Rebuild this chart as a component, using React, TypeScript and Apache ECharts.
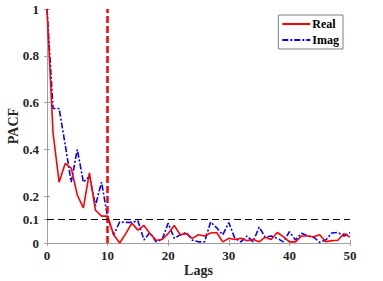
import React, { useEffect, useRef } from "react";
import * as echarts from "echarts";

const lags = Array.from({ length: 51 }, (_, i) => i);
const realPacf = [
  1.0, 0.47, 0.26, 0.34, 0.32, 0.205, 0.15, 0.3, 0.14, 0.115, 0.115,
  0.035, 0.0, 0.04, 0.085, 0.055, 0.075, 0.04, 0.012, 0.015, 0.04,
  0.075, 0.035, 0.04, 0.02, 0.035, 0.03, 0.043, 0.045, 0.005, 0.02,
  0.015, 0.02, 0.01, 0.015, 0.005, 0.025, 0.015, 0.045, 0.027, 0.005,
  0.005, 0.03, 0.03, 0.027, 0.035, 0.005, 0.01, 0.012, 0.04, 0.025,
];
const imagPacf = [
  1.0, 0.575, 0.575, 0.42, 0.26, 0.4, 0.26, 0.285, 0.16, 0.26, 0.11,
  0.035, 0.09, 0.088, 0.088, 0.095, 0.013, 0.045, 0.005, 0.015, 0.085,
  0.02, 0.035, 0.045, 0.012, 0.005, 0.005, 0.09, 0.065, 0.035, 0.087,
  0.02, 0.005, 0.03, 0.005, 0.068, 0.025, 0.03, 0.02, 0.005, 0.048,
  0.013, 0.042, 0.03, 0.025, 0.003, 0.013, 0.043, 0.045, 0.03, 0.045,
];
const yTicks = [0, 0.1, 0.2, 0.4, 0.6, 0.8, 1];
const cutoffLag = 10;
const threshold = 0.1;

const FONT = "Liberation Serif";

export default function App() {
  const ref = useRef<HTMLDivElement>(null);
  useEffect(() => {
    if (!ref.current) return;
    const chart = echarts.init(ref.current, undefined, { renderer: "svg" });
    const axisColor = "#a0a0a0";
    const labelStyle = {
      fontFamily: FONT,
      fontWeight: "bold" as const,
      fontSize: 13,
      color: "#262626",
    };
    chart.setOption({
      animation: false,
      grid: { left: 47, right: 33, top: 9, bottom: 38, containLabel: false, outerBoundsMode: "none" },
      legend: {
        show: true,
        right: 40,
        top: 15,
        orient: "vertical",
        itemWidth: 28,
        itemHeight: 10,
        itemGap: 4,
        padding: [3, 4, 3, 3],
        backgroundColor: "#fff",
        borderColor: "#7f7f7f",
        borderWidth: 1,
        itemStyle: { opacity: 0 },
        textStyle: { ...labelStyle, fontSize: 12, color: "#000", padding: [0, 0, 0, -3] },
        data: ["Real", "Imag"],
      },
      xAxis: [
        {
          type: "value",
          min: 0,
          max: 50,
          interval: 10,
          name: "Lags",
          nameLocation: "middle",
          nameGap: 20,
          nameMoveOverlap: false,
          nameTextStyle: { ...labelStyle, fontSize: 14 },
          axisLine: { show: true, lineStyle: { color: axisColor, width: 1 } },
          axisTick: { show: true, inside: true, length: 3, lineStyle: { color: axisColor } },
          axisLabel: { ...labelStyle, margin: 6 },
          splitLine: { show: false },
        },
        {
          type: "value",
          position: "top",
          min: 0,
          max: 50,
          interval: 10,
          axisLine: { show: true, lineStyle: { color: axisColor, width: 1 } },
          axisTick: { show: true, inside: true, length: 3, lineStyle: { color: axisColor } },
          axisLabel: { show: false },
          splitLine: { show: false },
        },
      ],
      yAxis: [
        {
          type: "value",
          min: 0,
          max: 1,
          name: "PACF",
          nameLocation: "middle",
          nameGap: 27,
          nameMoveOverlap: false,
          nameRotate: 90,
          nameTextStyle: { ...labelStyle, fontSize: 14 },
          axisLine: { show: true, lineStyle: { color: axisColor, width: 1 } },
          axisTick: { show: true, inside: true, length: 3, customValues: yTicks, lineStyle: { color: axisColor } },
          axisLabel: { ...labelStyle, margin: 8, customValues: yTicks, formatter: (v: number) => String(+v.toFixed(1)) },
          splitLine: { show: false },
        },
        {
          type: "value",
          position: "right",
          min: 0,
          max: 1,
          axisLine: { show: true, lineStyle: { color: axisColor, width: 1 } },
          axisTick: { show: true, inside: true, length: 3, customValues: yTicks, lineStyle: { color: axisColor } },
          axisLabel: { show: false },
          splitLine: { show: false },
        },
      ],
      series: [
        {
          name: "Real",
          type: "line",
          symbol: "none",
          data: lags.map((l, i) => [l, realPacf[i]]),
          lineStyle: { color: "#ff0000", width: 1.6 },
          itemStyle: { color: "#ff0000" },
          z: 3,
          markLine: {
            silent: true,
            symbol: "none",
            label: { show: false },
            data: [
              {
                xAxis: cutoffLag,
                lineStyle: { color: "#ff0000", width: 2.5, type: [7, 3] },
              },
              {
                yAxis: threshold,
                lineStyle: { color: "#000", width: 1.2, type: [7, 4] },
              },
            ],
          },
        },
        {
          name: "Imag",
          type: "line",
          symbol: "none",
          data: lags.map((l, i) => [l, imagPacf[i]]),
          lineStyle: { color: "#0000ff", width: 1.6, type: [6, 2, 2, 2] },
          itemStyle: { color: "#0000ff" },
          z: 2,
        },
      ],
    });
    return () => chart.dispose();
  }, []);
  return (
    <div
      ref={ref}
      style={{ position: "absolute", left: 0, top: 0, width: 383, height: 281, background: "#fff" }}
    />
  );
}
